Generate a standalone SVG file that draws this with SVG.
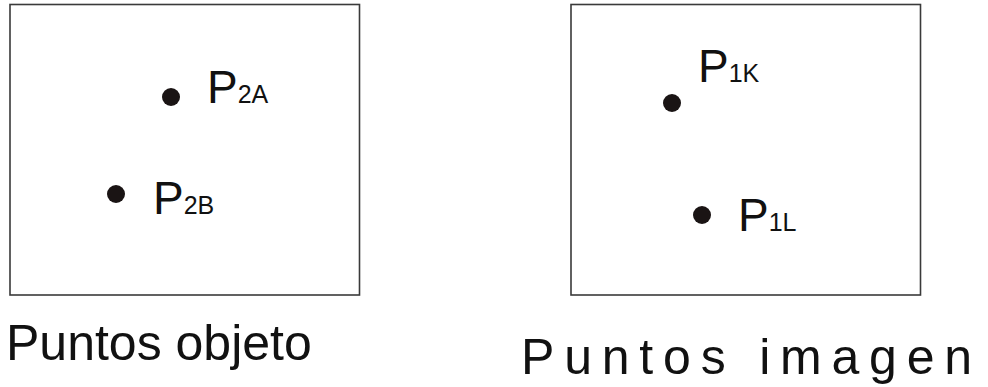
<svg xmlns="http://www.w3.org/2000/svg" width="988" height="387" viewBox="0 0 988 387">
<style>
.box{fill:#fff;stroke:#3a3a3a;stroke-width:1.6}
.dot{fill:#1a1414}
.lbl{font-family:"Liberation Sans",Arial,sans-serif;font-size:46px;fill:#111}
.sub{font-size:25px}
.cap{font-family:"Liberation Sans",Arial,sans-serif;font-size:50px;fill:#111}
</style>
<rect width="988" height="387" fill="#fff"/>
<g id="objeto">
<rect class="box" x="10" y="4.5" width="349.5" height="290.5"/>
</g>
<g id="imagen">
<rect class="box" x="571" y="4.5" width="349.5" height="290.5"/>
</g>
<g id="P2A">
<circle class="dot" cx="171" cy="97" r="9"/>
<text class="lbl" x="207" y="103">P<tspan class="sub">2A</tspan></text>
</g>
<g id="P2B">
<circle class="dot" cx="116" cy="194" r="9"/>
<text class="lbl" x="153" y="214">P<tspan class="sub">2B</tspan></text>
</g>
<g id="P1K">
<circle class="dot" cx="672" cy="103" r="9"/>
<text class="lbl" x="698" y="82">P<tspan class="sub">1K</tspan></text>
</g>
<g id="P1L">
<circle class="dot" cx="702" cy="215" r="9"/>
<text class="lbl" x="738" y="231">P<tspan class="sub">1L</tspan></text>
</g>
<g id="connectors"></g>
<text class="cap" x="6" y="360">Puntos objeto</text>
<text class="cap" x="521" y="374" letter-spacing="9.8">Puntos imagen</text>
</svg>
